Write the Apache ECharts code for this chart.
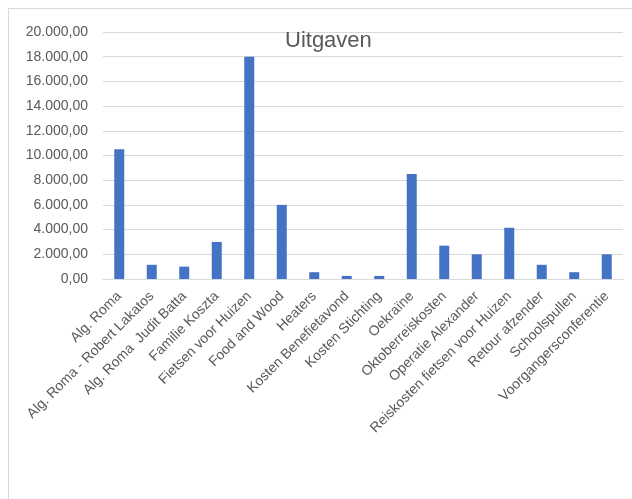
<!DOCTYPE html>
<html>
<head>
<meta charset="utf-8">
<script src="https://cdn.jsdelivr.net/npm/echarts@6/dist/echarts.min.js"></script>
<style>
html,body{margin:0;padding:0;background:#fff;}
#frame{position:absolute;left:8px;top:8px;width:640px;height:520px;border:1px solid #d9d9d9;box-sizing:border-box;}
#chart{position:absolute;left:0;top:0;width:632px;height:499px;}
</style>
</head>
<body>
<div id="frame"></div>
<div id="chart"></div>
<script>
const categories = ["Alg. Roma","Alg. Roma - Robert Lakatos","Alg. Roma  Judit Batta","Familie Koszta","Fietsen voor Huizen","Food and Wood","Heaters","Kosten Benefietavond","Kosten Stichting","Oekraïne","Oktoberreiskosten","Operatie Alexander","Reiskosten fietsen voor Huizen","Retour afzender","Schoolspullen","Voorgangersconferentie"];
const values = [10500,1150,1000,3000,18000,6000,550,250,250,8500,2700,2000,4150,1150,550,2000];
const yTicks = {min:0, max:20000, interval:2000};

function fmtNL(v){
  const parts = Math.round(v).toString().replace(/\B(?=(\d{3})+(?!\d))/g, '.');
  return parts + ',00';
}

const chart = echarts.init(document.getElementById('chart'));
chart.setOption({
  animation:false,
  title:{text:'Uitgaven', left:280, top:25, textStyle:{fontFamily:'Liberation Sans', fontSize:22, fontWeight:'normal', color:'#595959'}},
  grid:{left:103, right:9, top:32, bottom:220, containLabel:false},
  xAxis:{type:'category', data:categories,
    axisLine:{lineStyle:{color:'#d9d9d9', width:1}},
    axisTick:{show:false},
    axisLabel:{rotate:45, interval:0, margin:15, color:'#595959', fontFamily:'Liberation Sans', fontSize:14}},
  yAxis:{type:'value', min:yTicks.min, max:yTicks.max, interval:yTicks.interval,
    axisLine:{show:false}, axisTick:{show:false},
    splitLine:{lineStyle:{color:'#d9d9d9', width:1}},
    axisLabel:{formatter:fmtNL, color:'#595959', fontFamily:'Liberation Sans', fontSize:14, margin:15}},
  series:[{type:'bar', data:values, barWidth:10, itemStyle:{color:'#4472C4'}}]
});
</script>
</body>
</html>
